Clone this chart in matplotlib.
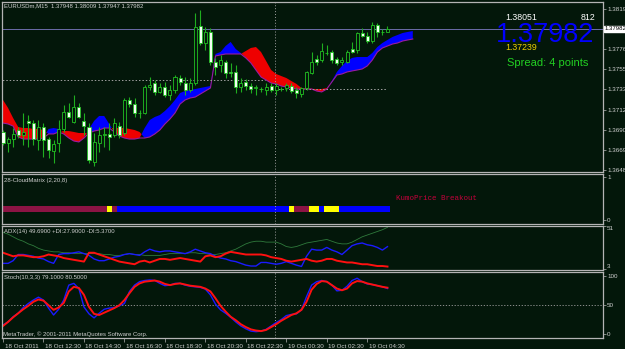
import numpy as np
import matplotlib
matplotlib.use('Agg')
import matplotlib.pyplot as plt
from matplotlib import transforms

plt.rcParams['font.family'] = ['Liberation Sans', 'DejaVu Sans']

# EURUSDm M15, one bar per 15 minutes, first bar 18 Oct 2011 10:30
opens = [1.36884, 1.36767, 1.36809, 1.36905, 1.36852, 1.37001, 1.36979, 1.36799, 1.36937, 1.36809,
         1.36682, 1.36767, 1.36916, 1.37096, 1.36990, 1.37149, 1.37001, 1.36937, 1.36565, 1.36767,
         1.36852, 1.36863, 1.36852, 1.36947, 1.36873, 1.37224, 1.37181, 1.37086, 1.37086, 1.37362,
         1.37404, 1.37309, 1.37362, 1.37277, 1.37330, 1.37457, 1.37404, 1.37330, 1.37404, 1.38010,
         1.37829, 1.37946, 1.37627, 1.37595, 1.37627, 1.37521, 1.37521, 1.37362, 1.37415, 1.37372,
         1.37351, 1.37340, 1.37330, 1.37372, 1.37330, 1.37340, 1.37351, 1.37372, 1.37330, 1.37287,
         1.37351, 1.37510, 1.37659, 1.37648, 1.37723, 1.37733, 1.37659, 1.37627, 1.37627, 1.37765,
         1.37755, 1.37935, 1.37903, 1.37850, 1.38020, 1.37946, 1.37948]
highs = [1.36905, 1.36831, 1.36926, 1.36937, 1.37086, 1.37064, 1.37011, 1.37011, 1.36979, 1.36831,
         1.36799, 1.37011, 1.37170, 1.37192, 1.37277, 1.37192, 1.37086, 1.36979, 1.36873, 1.36937,
         1.36937, 1.36979, 1.37032, 1.36990, 1.37245, 1.37255, 1.37245, 1.37117, 1.37383, 1.37468,
         1.37436, 1.37404, 1.37415, 1.37383, 1.37489, 1.37489, 1.37468, 1.37457, 1.38148, 1.38179,
         1.37999, 1.37988, 1.37670, 1.37702, 1.37648, 1.37617, 1.37595, 1.37457, 1.37447, 1.37404,
         1.37383, 1.37362, 1.37404, 1.37404, 1.37404, 1.37362, 1.37404, 1.37404, 1.37362, 1.37362,
         1.37530, 1.37733, 1.37702, 1.37829, 1.37808, 1.37755, 1.37680, 1.37680, 1.37755, 1.37840,
         1.37946, 1.37988, 1.37946, 1.38052, 1.38041, 1.37978, 1.38009]
lows = [1.36746, 1.36671, 1.36724, 1.36820, 1.36746, 1.36724, 1.36746, 1.36693, 1.36618, 1.36608,
        1.36555, 1.36671, 1.36884, 1.37032, 1.36979, 1.37032, 1.36852, 1.36555, 1.36523, 1.36671,
        1.36724, 1.36693, 1.36831, 1.36820, 1.36852, 1.37149, 1.37043, 1.37032, 1.37075, 1.37330,
        1.37277, 1.37298, 1.37255, 1.37224, 1.37298, 1.37383, 1.37277, 1.37309, 1.37383, 1.37808,
        1.37755, 1.37595, 1.37489, 1.37521, 1.37457, 1.37468, 1.37298, 1.37309, 1.37330, 1.37298,
        1.37277, 1.37309, 1.37277, 1.37309, 1.37277, 1.37319, 1.37319, 1.37298, 1.37245, 1.37255,
        1.37330, 1.37500, 1.37595, 1.37627, 1.37702, 1.37617, 1.37595, 1.37595, 1.37617, 1.37723,
        1.37723, 1.37893, 1.37829, 1.37829, 1.37893, 1.37914, 1.37947]
closes = [1.36767, 1.36809, 1.36863, 1.36852, 1.36884, 1.36979, 1.36809, 1.36937, 1.36799, 1.36693,
          1.36756, 1.36916, 1.37096, 1.37043, 1.37149, 1.37043, 1.36947, 1.36586, 1.36778, 1.36852,
          1.36863, 1.36831, 1.36979, 1.36852, 1.37224, 1.37181, 1.37086, 1.37086, 1.37362, 1.37383,
          1.37309, 1.37362, 1.37277, 1.37330, 1.37468, 1.37415, 1.37330, 1.37404, 1.37999, 1.37829,
          1.37946, 1.37627, 1.37574, 1.37648, 1.37510, 1.37510, 1.37362, 1.37404, 1.37372, 1.37340,
          1.37362, 1.37342, 1.37362, 1.37330, 1.37372, 1.37342, 1.37383, 1.37319, 1.37298, 1.37351,
          1.37521, 1.37627, 1.37627, 1.37744, 1.37725, 1.37648, 1.37617, 1.37648, 1.37733, 1.37733,
          1.37935, 1.37903, 1.37850, 1.38020, 1.37946, 1.37948, 1.37982]

# ichimoku cloud, runs 5 bars past the last candle
span_a = [1.36979, 1.36969, 1.36947, 1.36831, 1.36809, 1.36809, 1.36809, 1.36809, 1.36820, 1.36916,
          1.36926, 1.36916, 1.36863, 1.36820, 1.36788, 1.36778, 1.36820, 1.36916, 1.37001, 1.37054,
          1.37054, 1.36969, 1.36884, 1.36841, 1.36820, 1.36809, 1.36809, 1.36820, 1.36926, 1.37011,
          1.37043, 1.37064, 1.37107, 1.37160, 1.37224, 1.37298, 1.37319, 1.37330, 1.37340, 1.37351,
          1.37362, 1.37372, 1.37712, 1.37733, 1.37797, 1.37840, 1.37765, 1.37723, 1.37670, 1.37617,
          1.37542, 1.37468, 1.37436, 1.37404, 1.37394, 1.37372, 1.37362, 1.37351, 1.37340, 1.37340,
          1.37340, 1.37340, 1.37319, 1.37309, 1.37340, 1.37425, 1.37521, 1.37585, 1.37638, 1.37670,
          1.37680, 1.37680, 1.37680, 1.37723, 1.37786, 1.37829, 1.37861, 1.37893, 1.37914, 1.37935,
          1.37946, 1.37956]
span_b = [1.37224, 1.37139, 1.37032, 1.36937, 1.36926, 1.36926, 1.36916, 1.36916, 1.36905, 1.36863,
          1.36863, 1.36884, 1.36894, 1.36894, 1.36884, 1.36873, 1.36873, 1.36873, 1.36894, 1.36905,
          1.36926, 1.36926, 1.36926, 1.36926, 1.36926, 1.36916, 1.36905, 1.36884, 1.36820, 1.36831,
          1.36863, 1.36905, 1.36969, 1.37022, 1.37086, 1.37181, 1.37224, 1.37245, 1.37255, 1.37287,
          1.37319, 1.37351, 1.37691, 1.37702, 1.37712, 1.37712, 1.37712, 1.37712, 1.37744, 1.37776,
          1.37786, 1.37733, 1.37638, 1.37542, 1.37500, 1.37478, 1.37457, 1.37425, 1.37394, 1.37351,
          1.37346, 1.37342, 1.37340, 1.37340, 1.37351, 1.37415, 1.37489, 1.37500, 1.37521, 1.37532,
          1.37542, 1.37553, 1.37585, 1.37648, 1.37733, 1.37776, 1.37797, 1.37818, 1.37829, 1.37850,
          1.37861, 1.37871]

day_levels = [1.37436, 1.37340]
day_from = [-1, 53.8]
day_to = [51.8, 76]
bid = 1.37982
price_ticks = [1.38190, 1.37760, 1.37550, 1.37335, 1.37120, 1.36905, 1.36695, 1.36480]

# 28-CloudMatrix states as (state, number of bars)
matrix_runs = [('bear', 21), ('wait', 1), ('bear', 1), ('bull', 34), ('wait', 1), ('bear', 3),
               ('wait', 2), ('bull', 1), ('wait', 3), ('bull', 10)]

adx = [44, 42, 39, 36, 34, 31, 29, 26, 24, 23, 22, 22, 21, 21, 20, 20, 20, 20, 20, 20,
       19, 19, 18, 18, 19, 20, 19, 19, 18, 18, 18, 18, 19, 20, 20, 20, 20, 21, 21, 20,
       20, 19, 19, 20, 21, 23, 25, 28, 31, 33, 34, 34, 33, 33, 33, 31, 28, 27, 28, 30,
       32, 33, 34, 35, 36, 34, 32, 31, 31, 33, 36, 39, 41, 43, 45, 47, 49.69]
plus_di = [9, 9, 12, 19, 19, 18, 17, 15, 14, 11, 9, 19, 20, 20, 21, 22, 20, 18, 14, 12,
           12, 14, 16, 17, 19, 20, 19, 18, 22, 25, 23, 22, 23, 23, 22, 21, 20, 22, 25, 23,
           21, 20, 17, 15, 14, 12, 11, 9, 7, 6, 6, 10, 10, 9, 8, 9, 11, 9, 7, 5.5,
           17, 25, 24, 24, 27, 24, 22, 19, 24, 29, 31, 32, 30, 29, 27, 24, 27.9]
minus_di = [21, 19, 17, 18, 18, 17, 16, 16, 17, 19, 18, 17, 15, 14, 13, 12, 11, 21, 21, 19,
            17, 15, 13, 11, 10, 9, 8, 11, 12, 10, 12, 14, 14, 13, 14, 15, 14, 13, 12, 11,
            17, 18, 16, 17, 20, 22, 21, 20, 19, 19, 19, 19, 18, 16, 15, 14, 12, 11, 12, 13,
            14, 12, 11, 12, 14, 14, 12, 11, 10, 10, 9, 8, 8, 7, 6, 6, 5.37]

stoch_main = [15.6, 21, 30, 36, 46, 53, 59, 64, 59, 45, 33, 43, 59, 85, 88, 79, 47, 35, 28, 36,
              43, 45, 46, 49, 53, 74, 85, 91, 93, 94, 93, 88, 84, 85, 88, 88, 85, 83, 82, 81,
              78, 68, 52, 42, 36, 29, 21, 14, 9, 5, 4, 5, 8, 14, 20, 25, 32, 34, 35, 42,
              65, 85, 91, 93, 91, 85, 75, 76, 83, 93, 97, 91, 87, 86, 84, 82, 79.1]
stoch_signal = [14, 21, 29, 36, 43, 49, 56, 60, 58, 50, 42, 46, 54, 74, 82, 80, 68, 47, 35, 33,
                37, 41, 45, 50, 59, 71, 82, 88, 91, 92, 93, 91, 87, 85, 87, 88, 86, 84, 83, 82,
                79, 74, 62, 49, 39, 30, 24, 17, 12, 8, 6, 5, 7, 12, 17, 23, 28, 33, 36, 42,
                56, 77, 87, 92, 91, 85, 79, 76, 79, 88, 92, 91, 88, 86, 84, 82, 80.5]

time_ticks = [0, 8, 16, 24, 32, 40, 48, 56, 64, 72]
time_labels = ['18 Oct 2011', '18 Oct 12:30', '18 Oct 14:30', '18 Oct 16:30', '18 Oct 18:30',
               '18 Oct 20:30', '18 Oct 22:30', '19 Oct 00:30', '19 Oct 02:30', '19 Oct 04:30']

bg = '#03170a'
frame = '#b4b4b4'
txt = '#d0d0d0'
W, H = 625.0, 349.0

fig = plt.figure(figsize=(6.25, 3.49), dpi=100, facecolor=bg)


def panel(top, bottom):
    ax = fig.add_axes([2 / W, 1 - bottom / H, 601 / W, (bottom - top) / H])
    ax.set_facecolor(bg)
    for s in ax.spines.values():
        s.set_color(frame)
        s.set_linewidth(0.9)
    ax.set_xlim(-0.2, 118.6)
    ax.set_xticks([])
    ax.yaxis.tick_right()
    ax.tick_params(axis='y', colors=frame, labelcolor=txt, labelsize=4.5, length=2, width=0.5, pad=1)
    ax.axvline(53.8, color='#a0a0a0', lw=0.7, ls=(0, (1, 2)))
    return ax


def px(x, y):
    return x / W, 1 - y / H


ax = panel(2, 172)
cm = panel(174, 224)
ad = panel(226, 270)
st = panel(272, 338)

# price panel
x = np.arange(len(closes))
xc = np.arange(len(span_a))
a = np.array(span_a)
b = np.array(span_b)
ax.fill_between(xc, a, b, where=a >= b, interpolate=True, color='#0000ff', lw=0, zorder=1)
ax.fill_between(xc, a, b, where=a < b, interpolate=True, color='#ee0000', lw=0, zorder=1)
ax.plot(xc, np.minimum(a, b), color='#9a1aa0', lw=0.8, zorder=2)

o = np.array(opens)
c = np.array(closes)
up = c >= o
ax.vlines(x, lows, highs, color='#1fae1f', lw=0.8, zorder=3)
body = np.maximum(np.abs(c - o), 0.00002)
ax.bar(x[up], body[up], bottom=o[up], width=0.6, facecolor=bg, edgecolor='#22c022', lw=0.6, zorder=4)
ax.bar(x[~up], body[~up], bottom=c[~up], width=0.6, facecolor='#f2fff2', edgecolor='#22c022', lw=0.6, zorder=4)

for lvl, x0, x1 in zip(day_levels, day_from, day_to):
    ax.hlines(lvl, x0, x1, color='#a0a0a0', lw=0.7, linestyles=(0, (1.5, 2)), zorder=2)
ax.axhline(bid, color='#6c6ca8', lw=0.7, zorder=2)

ax.set_ylim(1.36459, 1.38264)
ax.set_yticks(price_ticks)
ax.set_yticklabels(['%.5f' % p for p in price_ticks])
ax.text(1.003, bid, '%.5f' % bid, transform=transforms.blended_transform_factory(ax.transAxes, ax.transData),
        fontsize=4.3, color='black', va='center', ha='left', clip_on=False,
        bbox=dict(facecolor='white', edgecolor='white', pad=0.4))

ax.text(0.004, 0.975, 'EURUSDm,M15  %.5f %.5f %.5f %.5f' % (opens[-1], highs[-1], lows[-1], closes[-1]),
        transform=ax.transAxes, fontsize=4.3, color=txt, va='center', ha='left')

fig.text(*px(505, 19.5), '1.38051', fontsize=6.3, color='white', va='baseline', ha='left')
fig.text(*px(595, 19.5), '812', fontsize=6.3, color='white', va='baseline', ha='right')
fig.text(*px(594, 42), '%.5f' % bid, fontsize=19.5, color='#0000ff', va='baseline', ha='right')
fig.text(*px(505, 49.5), '1.37239', fontsize=6.3, color='#f0d000', va='baseline', ha='left')
fig.text(*px(507, 66), 'Spread: 4 points', fontsize=8, color='#22d022', va='baseline', ha='left')

# cloud matrix panel
colors = {'bear': '#8c1444', 'wait': '#ffff00', 'bull': '#0000ff'}
pos = 0
for state, n in matrix_runs:
    cm.bar(np.arange(pos, pos + n), 0.14, bottom=0.19, width=1.0, color=colors[state], lw=0)
    pos += n
cm.set_ylim(-0.093, 1.07)
cm.set_yticks([0, 1])
cm.set_yticklabels(['0', '1'])
cm.text(0.004, 0.88, '28-CloudMatrix (2,20,8)', transform=cm.transAxes, fontsize=4.3, color=txt, va='center')
fig.text(*px(396, 199), 'KumoPrice Breakout', fontsize=5.4, color='#c8003c', va='center', ha='left',
         family='Liberation Mono')

# ADX panel
ad.plot(x, adx, color='#2f7a3c', lw=0.6)
ad.plot(x, plus_di, color='#1a1aff', lw=1.0)
ad.plot(x, minus_di, color='#ff1010', lw=1.4)
ad.set_ylim(1.5, 51.2)
ad.set_yticks([3, 51])
ad.set_yticklabels(['3', '51'])
ad.get_yticklabels()[0].set_va('bottom')
ad.get_yticklabels()[1].set_va('top')
ad.text(0.004, 0.88, 'ADX(14) %.4f +DI:%.4f -DI:%.4f' % (adx[-1], plus_di[-1], minus_di[-1]),
        transform=ad.transAxes, fontsize=4.3, color=txt, va='center')

# stochastic panel
st.axhline(50, color='#a0a0a0', lw=0.6, ls=(0, (1.5, 2)))
st.plot(x, stoch_main, color='#1a1aff', lw=1.0)
st.plot(x, stoch_signal, color='#ff1010', lw=1.4)
st.set_ylim(-7.0, 107.8)
st.set_yticks([0, 50, 100])
st.set_yticklabels(['0', '50', '100'])
st.text(0.004, 0.91, 'Stoch(10,3,3) %.4f %.4f' % (stoch_main[-1], stoch_signal[-1]),
        transform=st.transAxes, fontsize=4.3, color=txt, va='center')
st.text(0.002, 0.06, 'MetaTrader, \u00a9 2001-2011 MetaQuotes Software Corp.',
        transform=st.transAxes, fontsize=4.3, color=txt, va='center')

st.set_xticks(time_ticks)
st.set_xticklabels(time_labels, ha='left')
st.tick_params(axis='x', colors=frame, labelcolor=txt, labelsize=4.5, length=3, width=0.5, pad=1)
shift = transforms.ScaledTranslation(1.5 / 100, 0, fig.dpi_scale_trans)
for lab in st.get_xticklabels():
    lab.set_transform(lab.get_transform() + shift)

fig.savefig('out.png', dpi=100, facecolor=bg)
